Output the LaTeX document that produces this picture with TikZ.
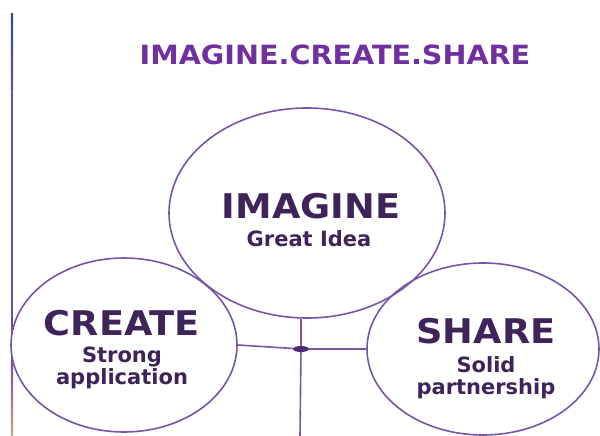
\documentclass[tikz,border=0pt]{standalone}
\usepackage{fontspec}
\setmainfont{DejaVu Sans}
\newfontfamily\widefont{DejaVu Sans}[FakeStretch=1.08]
\usetikzlibrary{shapes.geometric}
\definecolor{ink}{HTML}{3E2458}
\definecolor{titlepurple}{HTML}{7030A0}
\definecolor{bubbleline}{HTML}{7655A6}
\definecolor{hubfill}{HTML}{4B2D73}
\definecolor{railtop}{HTML}{2A4A9E}
\definecolor{railmid}{HTML}{6E4FA0}
\definecolor{railbot}{HTML}{C8A882}
\begin{document}
\begin{tikzpicture}[x=1pt,y=-1pt,
    bubble/.style={ellipse,draw=bubbleline,line width=1.6pt,inner sep=0pt},
    link/.style={draw=bubbleline,line width=1.6pt},
    big/.style={font=\widefont\fontsize{34}{36}\selectfont\bfseries,text=ink,anchor=base},
    small/.style={font=\fontsize{21}{22}\selectfont\bfseries,text=ink,align=center}]
    \useasboundingbox (0,0) rectangle (600,436);
    \shade[top color=railtop,bottom color=railmid] (10.8,14) rectangle (13.2,90);
    \fill[railmid] (10.8,89.5) rectangle (13.2,360.5);
    \shade[top color=railmid,bottom color=railbot] (10.8,360) rectangle (13.2,436);
    \node[titlepurple,font=\widefont\fontsize{26.5}{30}\selectfont\bfseries,anchor=base] (title) at (335,65) {IMAGINE.CREATE.SHARE};
    \node[bubble,fill=white,minimum width=226pt,minimum height=174pt] (create) at (124,345) {};
    \node[bubble,minimum width=276pt,minimum height=210pt] (imagine) at (307,213) {};
    \node[bubble,minimum width=232pt,minimum height=172pt] (share) at (483,349) {};
    \node[big] (imaginetxt) at (311,218) {IMAGINE};
    \node[small,anchor=base] (imaginesub) at (309,246) {Great Idea};
    \node[big] (createtxt) at (122,335) {CREATE};
    \node[small] (createsub) at (122,368) {Strong\\application};
    \node[big] (sharetxt) at (486,343) {SHARE};
    \node[small] (sharesub) at (486,378) {Solid\\partnership};
    \node[ellipse,fill=hubfill,minimum width=16pt,minimum height=6pt,inner sep=0pt] (hub) at (301,349) {};
    \coordinate (foot) at (300,436);
    \draw[link] (create.east) -- (hub) -- (share.west);
    \draw[link] (hub |- imagine.south) -- (hub) -- (foot);
\end{tikzpicture}
\end{document}
